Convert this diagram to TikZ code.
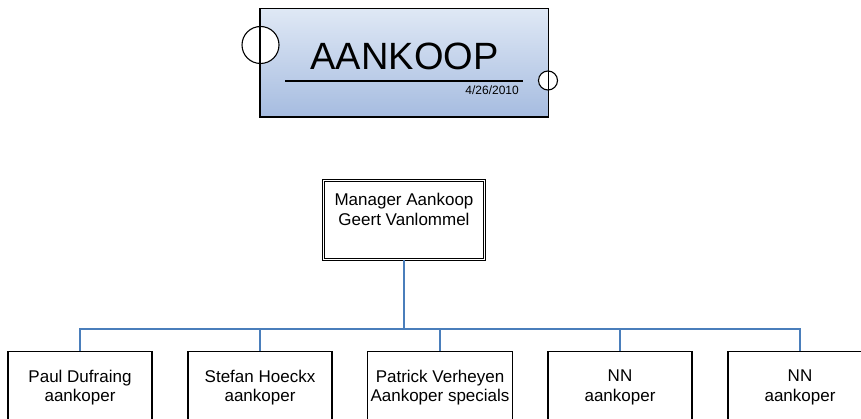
\documentclass[tikz,border=0pt]{standalone}
\usepackage{fontspec}
\setmainfont{Liberation Sans}
\usepackage{tikz}
\usetikzlibrary{positioning}
\definecolor{linkblue}{RGB}{74,126,187}
\definecolor{titletop}{RGB}{223,232,245}
\definecolor{titlebot}{RGB}{166,188,224}
\tikzset{
  titlebox/.style={rectangle, top color=titletop, bottom color=titlebot,
                   minimum width=288pt, minimum height=108pt, inner sep=0pt},
  port/.style={circle, draw=black, fill=white, line width=1.1pt, inner sep=0pt},
  mgrbox/.style={rectangle, draw=black, fill=white, double, double distance=1.6pt,
                 line width=1pt, minimum width=161pt, minimum height=79pt},
  empbox/.style={rectangle, draw=black, fill=white, line width=1.3pt,
                 minimum width=144pt, minimum height=72pt, align=center,
                 font=\fontsize{17}{19.5}\selectfont},
  mgrtext/.style={font=\fontsize{17}{19.5}\selectfont, align=center, inner sep=0pt},
  link/.style={draw=linkblue, line width=2.8pt},
}

\begin{document}
\begin{tikzpicture}[x=1pt, y=-1pt]
\useasboundingbox (0,0) rectangle (861,419);

% title block
\node[titlebox] (title) at (404,63) {};
\node[port, minimum size=37pt] (portl) at (260.5,45) {};
\node[port, minimum size=19pt] (portr) at (548,80.5) {};
\draw[line width=1.4pt] (title.north west) rectangle (title.south east);
\node[anchor=base, inner sep=0pt, font=\fontsize{38}{40}\selectfont] (aank) at (404.5,70) {AANKOOP};
\draw[line width=1.2pt] (285,81) -- (523,81);
\node[anchor=base east, inner sep=0pt, font=\fontsize{12}{13}\selectfont] (date) at (519,95) {4/26/2010};

% manager
\node[mgrbox, label={[mgrtext, anchor=north, yshift=-13pt]north:{Manager Aankoop\\Geert Vanlommel}}] (mgr) at (404,220) {};
\coordinate (bus) at (404,329);

% buyers
\foreach \i/\x/\who in {1/80/Paul Dufraing\\aankoper, 2/260/Stefan Hoeckx\\aankoper,
                        3/440/Patrick Verheyen\\Aankoper specials, 4/620/NN\\aankoper,
                        5/800/NN\\aankoper}
  \node[empbox, anchor=north] (emp\i) at (\x,351) {\who};

\draw[link] (mgr.south) -- (bus);
\foreach \i in {1,...,5}
  \draw[link] (bus) -| (emp\i.north);
\end{tikzpicture}
\end{document}
